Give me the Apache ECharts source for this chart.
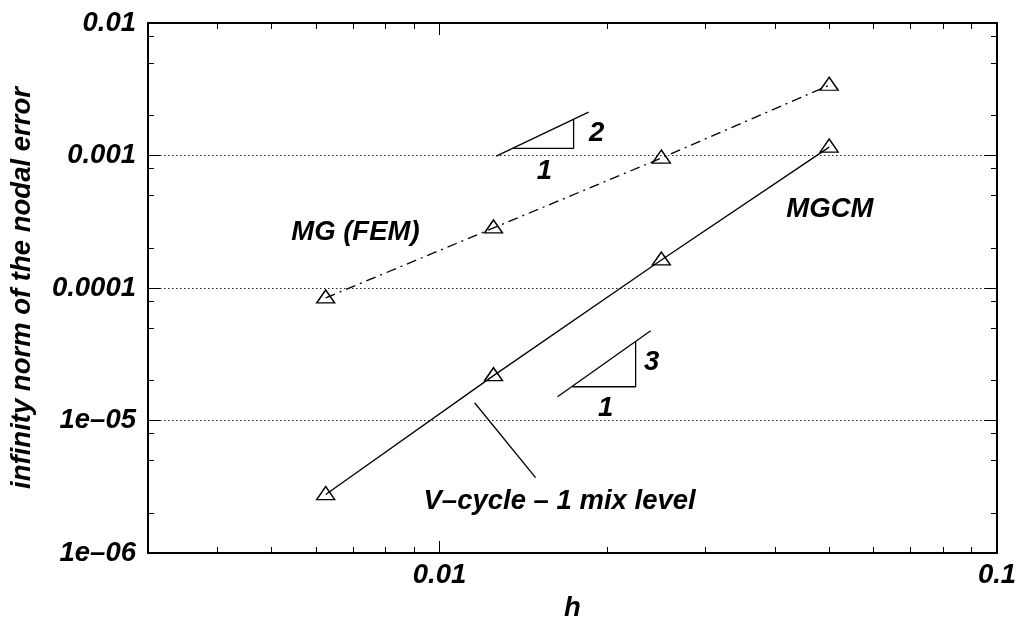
<!DOCTYPE html>
<html><head><meta charset="utf-8">
<script src="https://cdn.jsdelivr.net/npm/echarts@6/dist/echarts.min.js"></script>
<style>html,body{margin:0;padding:0;background:#fff}#c{width:1022px;height:619px}</style>
</head><body><div id="c"></div>
<script>
// ---- data ----
const hValues = [0.00625, 0.0125, 0.025, 0.05];
const mgFemErr = [8.42e-5, 2.84e-4, 9.56e-4, 3.39e-3];
const mgcmErr = [2.76e-6, 2.18e-5, 1.628e-4, 1.157e-3];

const xMajorTicks = [0.01, 0.1];
const xTickLabels = ['0.01', '0.1'];
const xMinorTicks = [0.004, 0.005, 0.006, 0.007, 0.008, 0.009, 0.02, 0.03, 0.04, 0.05, 0.06, 0.07, 0.08, 0.09];
const yMajorTicks = [1e-6, 1e-5, 1e-4, 1e-3, 1e-2];
const yTickLabels = ['1e\u201306', '1e\u201305', '0.0001', '0.001', '0.01'];
const yMinorTicks = [2e-6, 5e-6, 8e-6, 2e-5, 5e-5, 8e-5, 2e-4, 5e-4, 8e-4, 2e-3, 5e-3, 8e-3];

// annotation geometry (data coordinates)
const slope2Hyp = [[0.01264, 0.00099], [0.01851, 0.002123]];
const slope2Legs = [[0.0135, 0.001131], [0.0174, 0.001131], [0.0174, 0.001871]];
const slope3Hyp = [[0.01628, 1.511e-5], [0.02392, 4.75e-5]];
const slope3Legs = [[0.01733, 1.797e-5], [0.02248, 1.797e-5], [0.02248, 3.924e-5]];
const pointerLine = [[0.01156, 1.362e-5], [0.01487, 3.707e-6]];
const labelTexts = ['MG (FEM)', 'MGCM', 'V\u2013cycle \u2013 1 mix level', '2', '1', '3', '1'];
const labelX = [0.007066, 0.05015, 0.01642, 0.01913, 0.01543, 0.02402, 0.01986];
const labelY = [2.647e-4, 3.94e-4, 2.443e-6, 0.001475, 0.000763, 2.725e-5, 1.227e-5];

// ---- chart ----
const font = {fontFamily: 'Liberation Sans', fontWeight: 'bold', fontStyle: 'italic', fontSize: 27.5, color: '#000'};
function labelFor(majors, labels) {
  return function (v) {
    let best = 0, bd = Infinity;
    majors.forEach((m, i) => { const d = Math.abs(Math.log10(v) - Math.log10(m)); if (d < bd) { bd = d; best = i; } });
    return bd < 1e-6 ? labels[best] : '';
  };
}
const X_MIN = 0.003, X_MAX = 0.1, Y_MIN = 1e-6, Y_MAX = 1e-2;
function xAx(pos, ticks, len, main) {
  const bottom = main && pos === 'bottom';
  return {
    type: 'log', min: X_MIN, max: X_MAX, position: pos,
    name: bottom ? 'h' : '', nameLocation: 'middle', nameGap: 42, nameTextStyle: font,
    axisLine: {show: main, onZero: false, lineStyle: {color: '#000', width: 2}},
    axisTick: {show: true, inside: true, length: len, customValues: ticks, lineStyle: {color: '#000', width: 1}},
    axisLabel: bottom ? Object.assign({show: true, customValues: xMajorTicks, margin: 9, formatter: labelFor(xMajorTicks, xTickLabels)}, font) : {show: false},
    splitLine: {show: false}, minorTick: {show: false}
  };
}
function yAx(pos, ticks, len, main) {
  const left = main && pos === 'left';
  return {
    type: 'log', min: Y_MIN, max: Y_MAX, position: pos,
    name: left ? 'infinity norm of the nodal error' : '', nameLocation: 'middle', nameGap: 112, nameTextStyle: font,
    axisLine: {show: main, onZero: false, lineStyle: {color: '#000', width: 2}},
    axisTick: {show: true, inside: true, length: len, customValues: ticks, lineStyle: {color: '#000', width: 1}},
    axisLabel: left ? Object.assign({show: true, customValues: yMajorTicks, margin: 12, formatter: labelFor(yMajorTicks, yTickLabels)}, font) : {show: false},
    splitLine: left ? {show: true, lineStyle: {color: '#222', width: 1, type: [1.5, 2.5]}} : {show: false},
    minorTick: {show: false}
  };
}
function pairs(xs, ys) { return xs.map((x, i) => [x, ys[i]]); }
function annLine(pts) {
  return {type: 'line', data: pts, symbol: 'none', silent: true, animation: false, z: 5,
    lineStyle: {color: '#000', width: 1.3}, emphasis: {disabled: true}};
}
const dataSeries = (name, ys, dash) => ({
  type: 'line', name: name, data: pairs(hValues, ys), z: 6,
  symbol: 'triangle', symbolSize: [18, 13], symbolOffset: [0, -1.5],
  itemStyle: {color: 'rgba(0,0,0,0)', borderColor: '#000', borderWidth: 1.4},
  lineStyle: {color: '#000', width: 1.3, type: dash},
  emphasis: {disabled: true}, silent: true
});

const chart = echarts.init(document.getElementById('c'), null, {renderer: 'canvas'});
chart.setOption({
  animation: false,
  backgroundColor: '#fff',
  grid: {left: 148, right: 25, top: 23, bottom: 66, containLabel: false, outerBoundsMode: 'none'},
  xAxis: [xAx('bottom', xMajorTicks, 12, true), xAx('bottom', xMinorTicks, 6, false),
          xAx('top', xMajorTicks, 12, true), xAx('top', xMinorTicks, 6, false)],
  yAxis: [yAx('left', yMajorTicks, 12, true), yAx('left', yMinorTicks, 6, false),
          yAx('right', yMajorTicks, 12, true), yAx('right', yMinorTicks, 6, false)],
  series: [
    dataSeries('MG (FEM)', mgFemErr, [10, 5, 2, 5]),
    dataSeries('MGCM', mgcmErr, 'solid'),
    annLine(slope2Hyp), annLine(slope2Legs), annLine(slope3Hyp), annLine(slope3Legs), annLine(pointerLine),
    {
      type: 'scatter', silent: true, z: 7,
      data: labelTexts.map((t, i) => [labelX[i], labelY[i], t]),
      symbolSize: 1, itemStyle: {color: 'rgba(0,0,0,0)', opacity: 1},
      label: Object.assign({show: true, position: 'inside', opacity: 1, textBorderWidth: 0, formatter: p => p.data[2]}, font),
      emphasis: {disabled: true}
    }
  ]
});
</script></body></html>
